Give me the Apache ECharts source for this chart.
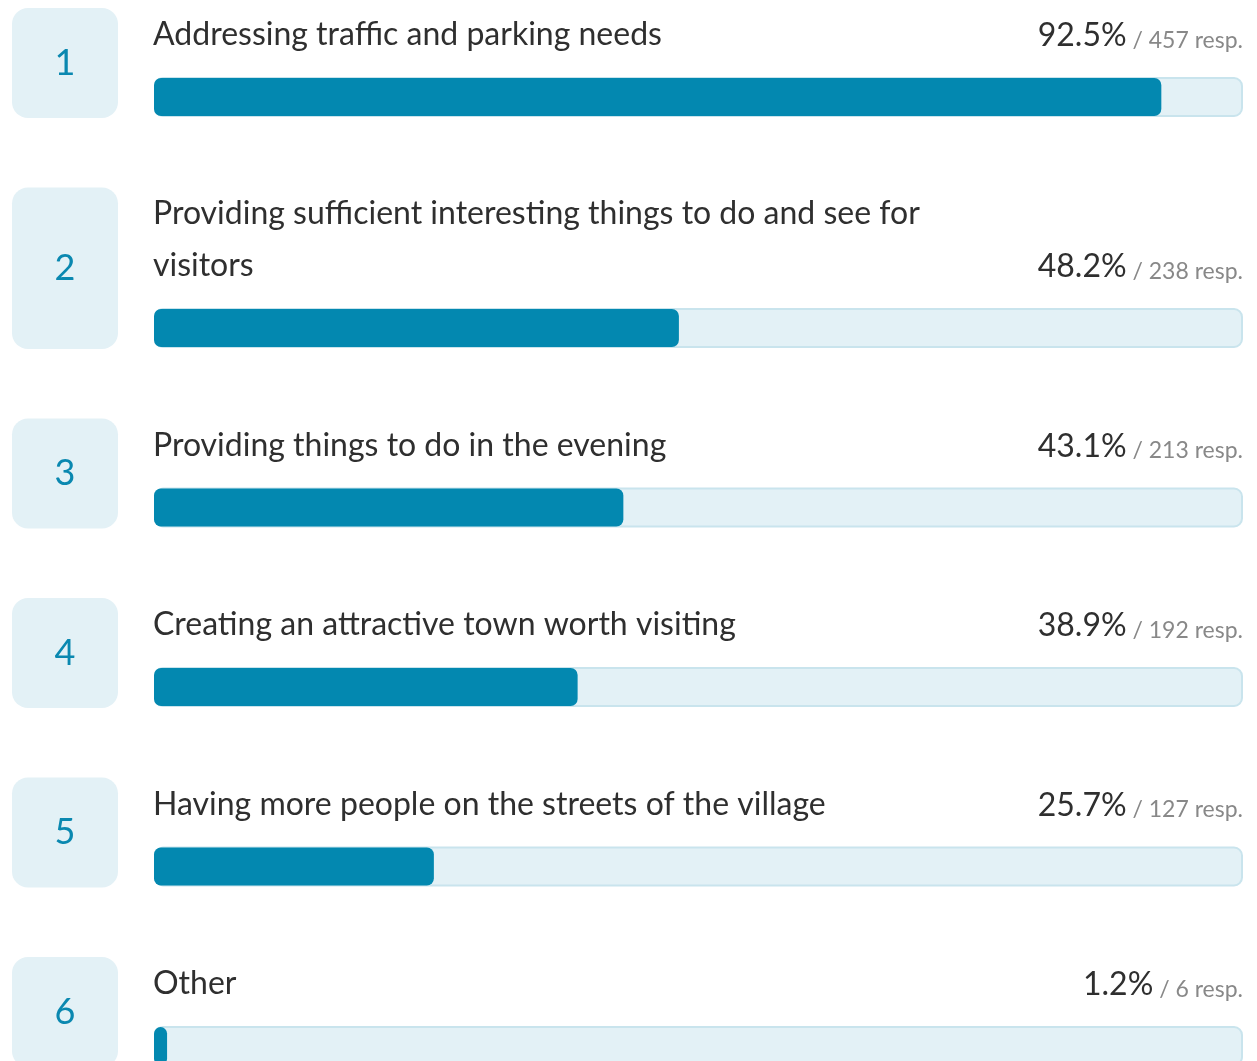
<!DOCTYPE html>
<html>
<head>
<meta charset="utf-8">
<title>Ranking</title>
<script src="https://cdn.jsdelivr.net/npm/echarts@6/dist/echarts.min.js"></script>
<style>
  html, body { margin: 0; padding: 0; background: #fff; }
  #chart { width: 1257px; height: 1061px; }
</style>
</head>
<body>
<div id="chart"></div>
<script>
// answers, ranked
const categories = [
  'Addressing traffic and parking needs',
  'Providing sufficient interesting things to do and see for visitors',
  'Providing things to do in the evening',
  'Creating an attractive town worth visiting',
  'Having more people on the streets of the village',
  'Other'
];
const percents = [92.5, 48.2, 43.1, 38.9, 25.7, 1.2];
const responses = [457, 238, 213, 192, 127, 6];

const FONT = 'Lato, "Source Sans Pro", sans-serif';
const TEXT_SIZE = 32;
const BLUE = '#0388b0';
const PALE = '#e3f1f6';

// word wrap so the row height can follow the number of lines
function wrap(text, maxW) {
  const ctx = document.createElement('canvas').getContext('2d');
  ctx.font = TEXT_SIZE + 'px ' + FONT;
  const words = text.split(' ');
  const lines = [];
  let cur = '';
  words.forEach(w => {
    const test = cur ? cur + ' ' + w : w;
    if (cur && ctx.measureText(test).width > maxW) {
      lines.push(cur);
      cur = w;
    } else {
      cur = test;
    }
  });
  if (cur) lines.push(cur);
  return lines;
}

const gridLeft = 154, gridRight = 14, barH = 42;
const rowPitch = 179.5, lineStep = 51.5;

const grids = [], xAxes = [], yAxes = [], series = [];
let barTop = 76;

categories.forEach((name, i) => {
  const lines = wrap(name, 830);
  const extra = lines.length - 1;
  if (i > 0) barTop += rowPitch;
  barTop += extra * lineStep;

  const boxH = 110 + extra * lineStep;
  grids.push({ left: gridLeft, right: gridRight, top: barTop, height: barH, outerBoundsMode: 'none' });
  xAxes.push({ type: 'value', gridIndex: i, min: 0, max: 100, show: false });
  // axis carrying the rank box
  yAxes.push({
    type: 'category', gridIndex: i, data: [String(i + 1)],
    axisLine: { show: false }, axisTick: { show: false }, splitLine: { show: false },
    axisLabel: {
      margin: 36,
      formatter: v => '{box|' + v + '}\n{sp| }',
      rich: {
        box: {
          width: 106, height: boxH, lineHeight: boxH, align: 'center',
          backgroundColor: PALE, borderRadius: 16,
          fontSize: 36, fontFamily: FONT, color: '#0a88b0'
        },
        sp: { width: 106, height: boxH - barH, lineHeight: boxH - barH, fontSize: 10 }
      }
    }
  });
  // second axis for the filled bar
  yAxes.push({ type: 'category', gridIndex: i, data: [String(i + 1)], show: false });

  series.push({
    type: 'bar', xAxisIndex: i, yAxisIndex: 2 * i, data: [100],
    barWidth: 40, barGap: '-100%', silent: true, z: 1,
    itemStyle: { color: PALE, borderColor: '#c9e4ed', borderWidth: 2, borderRadius: 8 },
    label: {
      show: true, position: [-1, -16], align: 'left', verticalAlign: 'bottom',
      formatter: () => lines.join('\n'),
      fontFamily: FONT, fontSize: TEXT_SIZE, lineHeight: 52, color: '#2f2f2f'
    }
  });
  series.push({
    type: 'bar', xAxisIndex: i, yAxisIndex: 2 * i, data: [100],
    barWidth: 40, barGap: '-100%', silent: true, z: 2,
    itemStyle: { color: 'transparent' },
    label: {
      show: true, position: ['100%', -25], align: 'right', verticalAlign: 'bottom',
      formatter: () => '{p|' + percents[i].toFixed(1) + '%}{r| / ' + responses[i] + ' resp.}',
      fontFamily: FONT, fontSize: 23, lineHeight: 52,
      rich: {
        p: { fontFamily: FONT, fontSize: TEXT_SIZE, color: '#2f2f2f', lineHeight: 52, verticalAlign: 'bottom' },
        r: { fontFamily: FONT, fontSize: 23, color: '#888', lineHeight: 46, verticalAlign: 'bottom' }
      }
    }
  });
  series.push({
    type: 'bar', xAxisIndex: i, yAxisIndex: 2 * i + 1, data: [percents[i]],
    barWidth: 38, silent: true, z: 3,
    itemStyle: { color: BLUE, borderRadius: 7 }
  });
});

const chart = echarts.init(document.getElementById('chart'), null, { renderer: 'canvas' });
chart.setOption({
  animation: false,
  backgroundColor: '#fff',
  grid: grids,
  xAxis: xAxes,
  yAxis: yAxes,
  series: series
});
</script>
</body>
</html>
